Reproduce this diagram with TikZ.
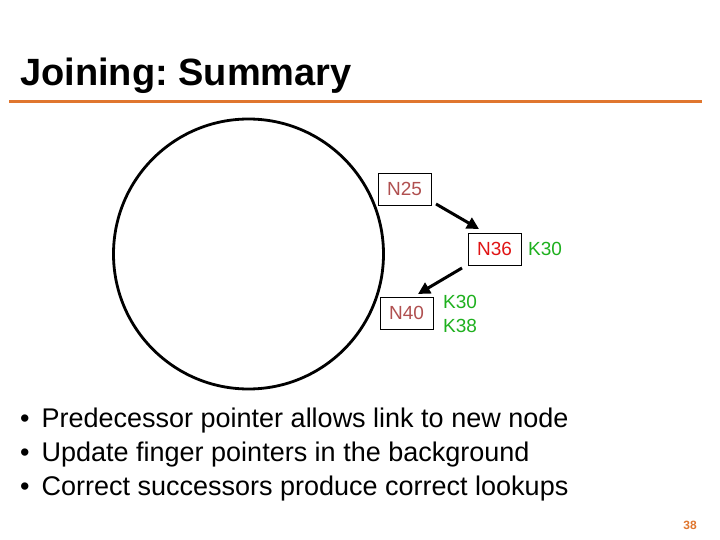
\documentclass[tikz,border=0pt]{standalone}
\usepackage{fontspec}
\setmainfont{Liberation Sans}
\usetikzlibrary{arrows.meta}
\frenchspacing
\definecolor{slideorange}{RGB}{224,118,46}
\definecolor{nodebrown}{RGB}{176,80,80}
\definecolor{nodered}{RGB}{224,20,20}
\definecolor{keygreen}{RGB}{30,176,30}
\begin{document}
\begin{tikzpicture}[x=1pt,y=-1pt,
  nbox/.style={draw=black,line width=0.8pt,minimum width=53pt,minimum height=32pt,inner sep=0pt,font=\fontsize{19}{22}\selectfont},
  keytxt/.style={text=keygreen,inner sep=0pt,font=\fontsize{19}{24}\selectfont,align=left},
  ptr/.style={line width=3pt,-{Triangle[length=12pt,width=12pt]}},
  bullettxt/.style={anchor=base west,inner sep=0pt,font=\fontsize{27}{32}\selectfont}]
\useasboundingbox (0,0) rectangle (720,540);
\fill[white] (0,0) rectangle (720,540);
% title
\node[anchor=base west,inner sep=0pt,font=\fontsize{38}{40}\selectfont\bfseries] (title) at (20,86) {Joining: Summary};
\draw[slideorange,line width=3pt] (9,102) -- (702,102);
% ring
\draw[line width=2.8pt] (248.5,254) circle (135);
% nodes
\node[nbox,text=nodebrown] (n25) at (404.5,189) {N25};
\node[nbox,text=nodered] (n36) at (494.5,249) {N36};
\node[nbox,text=nodebrown] (n40) at (406.5,313) {N40};
\node[keytxt,anchor=west] (k36) at (528,249) {K30};
\node[keytxt,anchor=west] (k40) at (443,314) {K30\\K38};
% pointers
\coordinate (a1s) at (436,204);
\coordinate (a1e) at (479,229);
\coordinate (a2s) at (462,268);
\coordinate (a2e) at (418,294);
\draw[ptr] (a1s) -- (a1e);
\draw[ptr] (a2s) -- (a2e);
% bullets
\node[bullettxt] (b1) at (20,427) {•\hspace{12pt}Predecessor pointer allows link to new node};
\node[bullettxt] (b2) at (20,461) {•\hspace{12pt}Update finger pointers in the background};
\node[bullettxt] (b3) at (20,495) {•\hspace{12pt}Correct successors produce correct lookups};
% page number
\node[anchor=base east,inner sep=0pt,text=slideorange,font=\fontsize{12}{14}\selectfont\bfseries] (pg) at (697,529) {38};
\end{tikzpicture}
\end{document}
